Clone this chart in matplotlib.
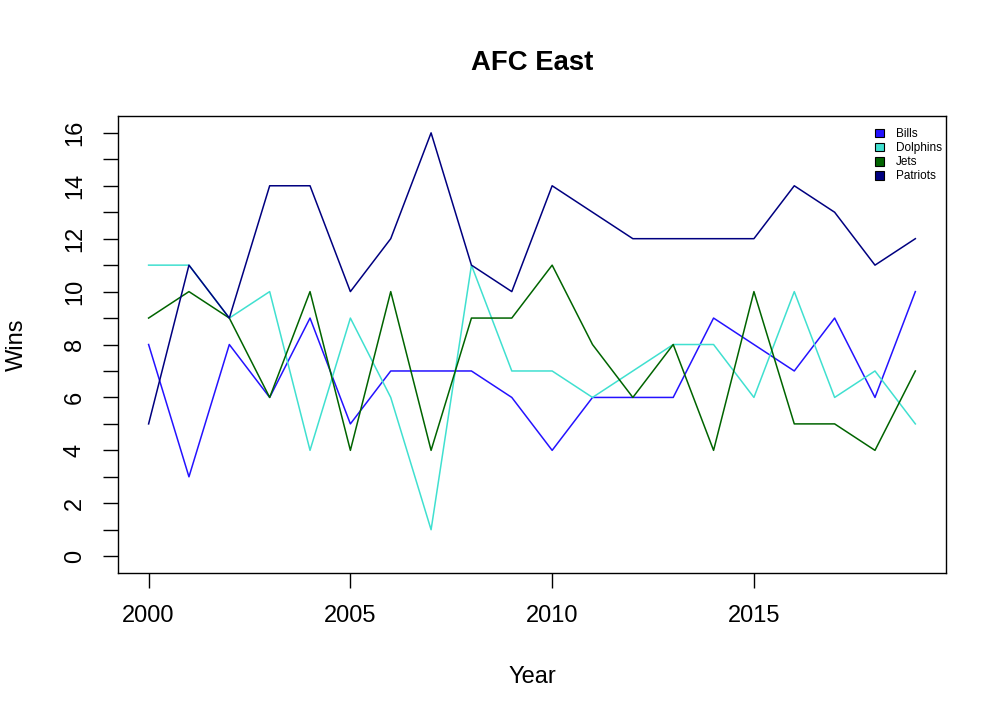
import matplotlib
matplotlib.use("Agg")
import matplotlib.pyplot as plt
from matplotlib.patches import Patch

# ── Data ──────────────────────────────────────────
years = list(range(2000, 2020))
bills = [8, 3, 8, 6, 9, 5, 7, 7, 7, 6, 4, 6, 6, 6, 9, 8, 7, 9, 6, 10]
dolphins = [11, 11, 9, 10, 4, 9, 6, 1, 11, 7, 7, 6, 7, 8, 8, 6, 10, 6, 7, 5]
jets = [9, 10, 9, 6, 10, 4, 10, 4, 9, 9, 11, 8, 6, 8, 4, 10, 5, 5, 4, 7]
patriots = [5, 11, 9, 14, 14, 10, 12, 16, 11, 10, 14, 13, 12, 12, 12, 12, 14, 13, 11, 12]

teams = ["Bills", "Dolphins", "Jets", "Patriots"]
colors = ["#2412ff", "#40e0d0", "#006400", "#000080"]

plt.rcParams["font.family"] = ["Liberation Sans", "DejaVu Sans"]

fig = plt.figure(figsize=(10.08, 7.2), dpi=100)
ax = fig.add_axes([0.117, 0.204, 0.8215, 0.635])

for vals, col in zip([bills, dolphins, jets, patriots], colors):
    ax.plot(years, vals, color=col, lw=1.1)

# R-style 4% axis padding
ax.set_xlim(2000 - 19 * 0.04, 2019 + 19 * 0.04)
ax.set_ylim(-16 * 0.04, 16 + 16 * 0.04)

ax.set_xticks([2000, 2005, 2010, 2015])
ax.set_yticks(range(0, 17))
ax.set_yticklabels([str(v) if v % 2 == 0 else "" for v in range(0, 17)],
                   rotation=90, va="center")
ax.tick_params(direction="out", length=11, width=1, labelsize=17, pad=12)

for s in ax.spines.values():
    s.set_linewidth(1)

ax.set_title("AFC East", fontsize=19.8, fontweight="bold", pad=33)
ax.set_xlabel("Year", fontsize=17, labelpad=28)
ax.set_ylabel("Wins", fontsize=17, labelpad=26)

handles = [Patch(facecolor=c, edgecolor="black", lw=0.8) for c in colors]
ax.legend(handles, teams, loc="upper right", frameon=False, fontsize=8.5,
          handlelength=0.75, handleheight=0.75, handletextpad=1.05,
          labelspacing=0.18, borderaxespad=0.0, borderpad=0.45,
          bbox_to_anchor=(1.002, 0.985))

fig.savefig("out.png", dpi=100)
